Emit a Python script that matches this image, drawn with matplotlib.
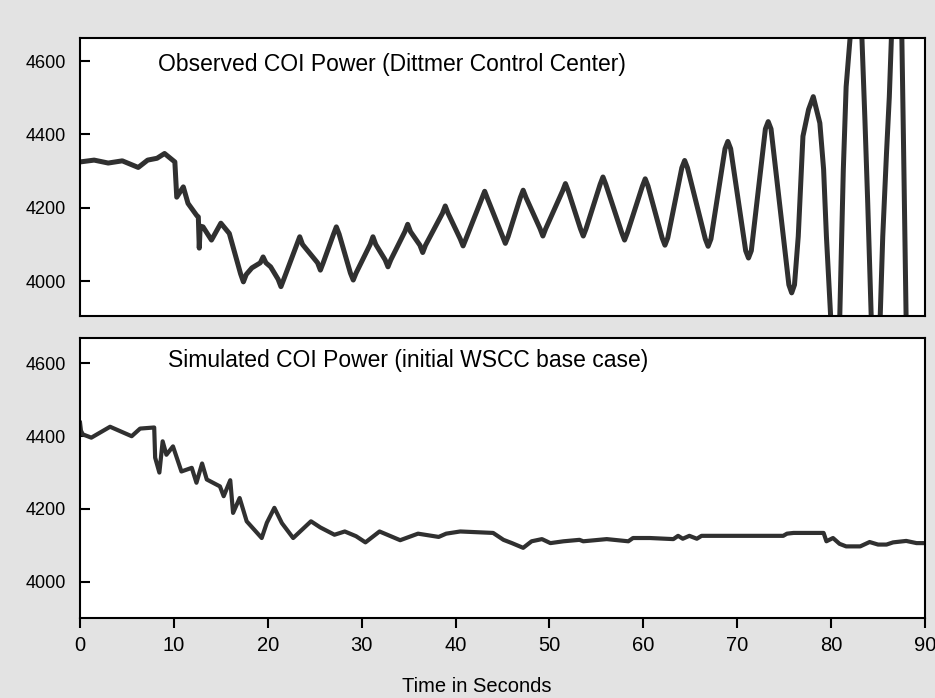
import numpy as np
import matplotlib.pyplot as plt

plt.rcParams['font.family'] = ['Liberation Sans', 'DejaVu Sans']

# observed COI power, Dittmer control center (s, MW)
obs_t = [0, 1.5, 3, 4.5, 6.2, 7.2, 8.2, 9.0, 10.1, 10.3, 11.0, 11.5, 12.4, 12.6, 12.7,
         12.8, 13.1, 14.0, 15.0, 15.9, 17.1, 17.4, 17.7, 18.3, 19.2, 19.5, 19.8, 20.3,
         21.1, 21.4, 21.7, 23.1, 23.4, 23.7, 25.3, 25.6, 25.9, 27.0, 27.3, 27.6, 28.8,
         29.1, 29.4, 30.9, 31.2, 31.5, 32.5, 32.8, 33.1, 34.6, 34.9, 35.2, 36.2, 36.5,
         36.8, 38.6, 38.9, 39.2, 40.5, 40.8, 41.1, 42.8, 43.1, 43.4, 45.0, 45.3, 45.6,
         46.9, 47.2, 47.5, 49.0, 49.3, 49.6, 51.4, 51.7, 52.0, 53.3, 53.6, 53.9, 55.4,
         55.7, 56.0, 57.7, 58.0, 58.3, 59.9, 60.2, 60.5, 62.0, 62.3, 62.6, 64.1, 64.4,
         64.7, 66.6, 66.9, 67.2, 68.7, 69.0, 69.3, 70.9, 71.2, 71.5, 73.0, 73.3, 73.6,
         75.5, 75.8, 76.1, 76.5, 77.0, 77.6, 78.1, 78.8, 79.2, 79.5, 80.0, 80.9, 81.3,
         81.6, 82.2, 83.2, 83.6, 83.9, 84.3, 85.2, 85.5, 85.9, 86.2, 86.5, 87.5, 87.7,
         88.0]
obs_p = [4325, 4330, 4322, 4328, 4310, 4330, 4335, 4348, 4325, 4229, 4257, 4212, 4180, 4175, 4090,
         4150, 4148, 4112, 4158, 4130, 4020, 3998, 4018, 4036, 4050, 4066, 4050, 4039,
         4005, 3985, 4005, 4100, 4121, 4100, 4050, 4030, 4050, 4128, 4148, 4128, 4022,
         4003, 4022, 4100, 4121, 4100, 4058, 4039, 4058, 4135, 4155, 4135, 4098, 4078,
         4098, 4185, 4205, 4185, 4115, 4096, 4115, 4225, 4245, 4225, 4122, 4103, 4122,
         4228, 4248, 4228, 4143, 4123, 4143, 4246, 4266, 4246, 4143, 4123, 4143, 4264,
         4284, 4264, 4132, 4112, 4132, 4259, 4279, 4259, 4118, 4098, 4118, 4309, 4329,
         4309, 4115, 4095, 4115, 4361, 4381, 4361, 4083, 4063, 4083, 4415, 4435, 4415,
         3990, 3968, 3990, 4122, 4395, 4468, 4503, 4431, 4305, 4122, 3880, 3880, 4304,
         4530, 4720, 4720, 4441, 4213, 3880, 3880, 4122, 4349, 4503, 4720, 4720, 4395,
         3880]

# simulated COI power, initial WSCC base case (s, MW)
sim_t = [0, 0.1, 0.3, 1.2, 3.2, 5.5, 6.4, 7.9, 8.0, 8.45, 8.8, 9.2, 9.9, 10.8, 11.9,
         12.4, 13.0, 13.5, 14.9, 15.3, 16.0, 16.3, 17.0, 17.75, 19.35, 19.9, 20.7,
         21.5, 22.7, 24.6, 25.6, 27.1, 28.2, 29.4, 30.4, 31.9, 34.1, 36.0, 38.2, 39.0,
         40.5, 44.0, 45.1, 46.0, 47.2, 48.1, 49.2, 50.1, 51.5, 53.2, 53.6, 56.1, 58.4,
         58.9, 60.7, 63.2, 63.7, 64.2, 64.9, 65.7, 66.2, 74.9, 75.3, 76.0, 79.2, 79.5,
         80.2, 80.9, 81.6, 83.1, 84.1, 85.0, 85.9, 86.6, 88.0, 89.1, 90]
sim_p = [4437, 4415, 4405, 4396, 4426, 4400, 4421, 4424, 4341, 4300, 4386, 4349, 4372, 4303, 4313,
         4272, 4325, 4281, 4262, 4235, 4279, 4189, 4230, 4166, 4120, 4162, 4203,
         4161, 4120, 4166, 4149, 4129, 4138, 4125, 4108, 4138, 4114, 4132, 4123, 4132,
         4138, 4134, 4115, 4106, 4093, 4111, 4117, 4106, 4111, 4115, 4111, 4117, 4111,
         4120, 4120, 4117, 4126, 4118, 4126, 4118, 4126, 4126, 4132, 4134, 4134, 4111,
         4120, 4104, 4097, 4097, 4109, 4102, 4102, 4108, 4112, 4106, 4106]

yticks = [4000, 4200, 4400, 4600]
xticks = [0, 10, 20, 30, 40, 50, 60, 70, 80, 90]

line_col = '#303030'

fig = plt.figure(figsize=(9.35, 6.98), dpi=100)
fig.patch.set_facecolor('#e3e3e3')
ax1 = fig.add_axes([0.0856, 0.5473, 0.9037, 0.3983])
ax2 = fig.add_axes([0.0856, 0.1146, 0.9037, 0.4011])

ax1.plot(obs_t, obs_p, color=line_col, lw=3.6, solid_joinstyle='round')
ax2.plot(sim_t, sim_p, color=line_col, lw=3.0, solid_joinstyle='round')

ax1.set_ylim(3905, 4663)
ax2.set_ylim(3900, 4670)

for ax in (ax1, ax2):
    ax.set_xlim(0, 90)
    ax.set_yticks(yticks)
    ax.tick_params(axis='y', direction='in', length=7, width=1.5, pad=10,
                   labelsize=13)
    for s in ax.spines.values():
        s.set_linewidth(1.5)
    ax.set_facecolor('white')

ax1.set_xticks([])
ax2.set_xticks(xticks)
ax2.tick_params(axis='x', direction='out', length=7, width=1.5, pad=6,
                labelsize=14.5)
fig.text(477 / 935, 1 - 686 / 698, 'Time in Seconds', fontsize=14.5,
         ha='center', va='center')

ax1.text(0.092, 0.905, 'Observed COI Power (Dittmer Control Center)',
         transform=ax1.transAxes, fontsize=16.5, va='center', ha='left')
ax2.text(0.104, 0.918, 'Simulated COI Power (initial WSCC base case)',
         transform=ax2.transAxes, fontsize=16.5, va='center', ha='left')

plt.savefig('out.png', dpi=100, facecolor=fig.get_facecolor())
